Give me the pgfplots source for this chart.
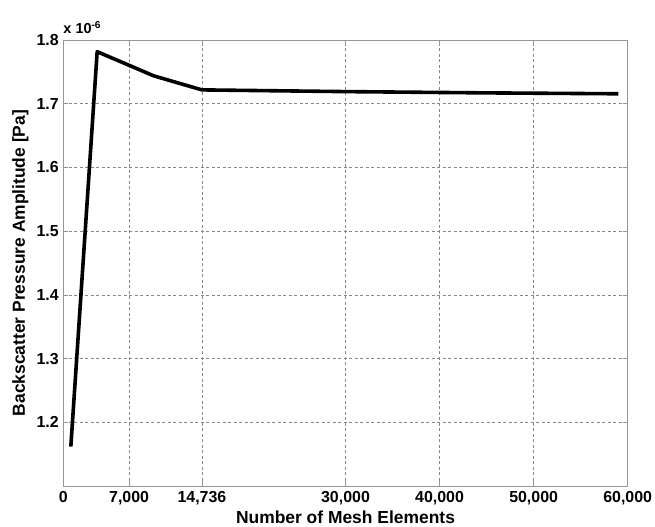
\documentclass[border=0pt]{standalone}
\usepackage{fontspec}
\setmainfont{Liberation Sans}
\usepackage{pgfplots}
\pgfplotsset{compat=1.18}

\definecolor{framegray}{RGB}{150,150,150}
\definecolor{gridgray}{RGB}{135,135,135}

\begin{document}
\begin{tikzpicture}
\begin{axis}[
  name=main,
  scale only axis,
  width=564.4bp, height=446bp,
  xmin=0, xmax=60000,
  ymin=1.1, ymax=1.8,
  scaled x ticks=false,
  scaled y ticks=false,
  xtick={0,7000,14736,30000,40000,50000,60000},
  xticklabels={0,{7,000},{14,736},{30,000},{40,000},{50,000},{60,000}},
  ytick={1.2,1.3,1.4,1.5,1.6,1.7,1.8},
  yticklabels={1.2,1.3,1.4,1.5,1.6,1.7,1.8},
  /pgf/number format/assume math mode=true,
  ticklabel style={font=\bfseries\fontsize{16}{18}\selectfont},
  xticklabel style={yshift=-2bp},
  yticklabel style={xshift=-1bp},
  tick align=inside,
  major tick length=5bp,
  tick style={framegray, line width=0.6bp},
  axis line style={framegray, line width=0.8bp},
  grid=major,
  major grid style={gridgray, line width=0.5bp, dash pattern=on 3bp off 2.5bp},
  xlabel={Number of Mesh Elements},
  ylabel={Backscatter Pressure Amplitude [Pa]},
  label style={font=\bfseries\fontsize{17.5}{20}\selectfont},
  xlabel style={at={(axis description cs:0.5,-0.083)}, anchor=base},
  ylabel style={at={(axis description cs:-0.0682,0.5)}, anchor=base},
  clip=false,
]
% converged amplitude versus mesh size
\addplot[black, line width=3.6bp, line join=round] coordinates {
  (800,1.1619)
  (3600,1.7817)
  (9600,1.7438)
  (14736,1.7217)
  (30000,1.7190)
  (45000,1.7170)
  (59000,1.7156)
};
\node[anchor=base west, inner sep=0pt, font=\bfseries\fontsize{14.5}{16}\selectfont]
  at (rel axis cs:0,1) [yshift=6bp] {x 10\textsuperscript{-6}};
\end{axis}
\pgfresetboundingbox
\path[use as bounding box] ([xshift=-63.3bp,yshift=-40bp]main.south west)
  rectangle ([xshift=27.3bp,yshift=40bp]main.north east);
\end{tikzpicture}
\end{document}
